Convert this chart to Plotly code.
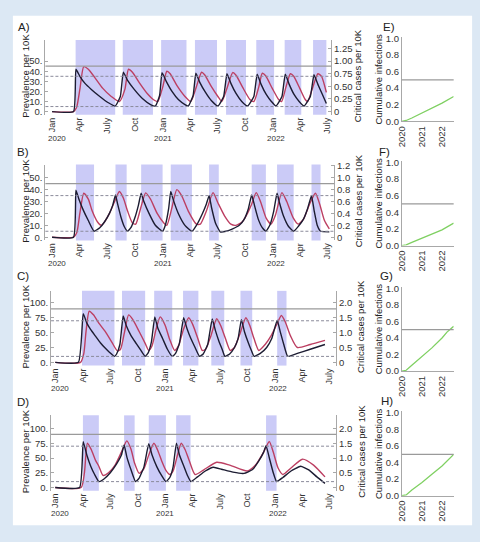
import plotly.graph_objects as go
import pandas as pd

W, H = 480, 542
START = pd.Timestamp("2020-01-01")

# ---------------- data (x = days since 1 Jan 2020) ----------------
A_BLACK_DAYS = [0,71,79,92,109,130,158,185,209,226,236,250,272,299,326,342,356,364,378,397,418,440,451,467,476,489,508,527,549,568,579,592,609,628,647,668,679,692,709,726,741,761,772,785,801,818,834,855,867,880,895,908]
A_BLACK_VALS = [0,0,42,35,28,22,15,9,5.5,15,39,31,22,13,7,5.5,16,38.5,30,20,12,7,5.5,16,38,29,19,11,5.5,15,37.5,28,18,10,5.5,15,37,27,17,10,5.5,15,37,27,17,10,5.5,15,36.5,27,17,8]
A_RED_DAYS = [0,71,81,92,105,120,141,168,196,223,241,253,266,288,315,340,350,366,380,391,413,440,459,477,495,505,527,549,562,580,598,609,631,655,668,684,696,707,729,750,760,774,789,800,820,838,846,863,880,892,908]
A_RED_VALS = [0,0,4,22,44.5,42,34,23,15,10,22,42,39,29,18,11,10,24,40,37.5,26,15,10,24,39,36.5,25,15,10,24,38.7,36,24,12,10,24,38,35.5,23,12,10,24,37.5,35,23,12,10,24,37.5,35,19]
A_LOCK_START = [78,234,361,473,576,676,770,864]
A_LOCK_END = [209,334,445,546,642,735,825,908]

B_BLACK_DAYS = [0,71,79,89,103,120,139,158,174,190,201,210,217,228,239,250,261,275,286,295,304,321,342,366,375,386,393,402,418,440,463,478,498,511,520,528,541,557,576,598,620,636,650,661,670,683,696,708,721,734,745,753,766,783,800,815,832,846,859,868,878,889,918]
B_BLACK_VALS = [0,0,39.5,32,23,14,5,8,13,20,27,35.5,28,17,9,5,8,17,27,37,30,20,10,5,10,24,38.5,31,20,10,5,10,20,28,35,25,12,4.5,5,7,10,15,24,35.5,27,15,8,5,10,22,37,29,18,9,5,9,15,24,35,22,10,5,4.5]
B_RED_DAYS = [0,71,82,92,105,120,133,150,163,174,190,207,223,236,250,266,277,294,310,326,348,370,380,397,413,429,451,478,491,511,533,549,571,592,609,630,647,661,676,690,709,725,739,761,777,799,815,832,853,872,886,902,918]
B_RED_VALS = [0,0,4,20,37,32,22,13,10,13,20,30,38.4,33,22,12,11,25,37.3,32,20,12,10,25,40,35,22,11,11,22,37.5,29,18,11,10,13,20,28,37.5,30,16,11,18,37.5,30,16,11,15,28,37,28,14,7]
B_LOCK_START = [79,210,295,393,520,661,745,859]
B_LOCK_END = [139,247,366,463,552,708,800,889]

C_BLACK_DAYS = [0,77,93,105,118,134,150,166,180,197,204,215,226,236,252,269,285,299,309,320,331,341,357,373,389,400,413,427,438,451,465,480,492,507,522,533,544,555,564,580,596,608,619,629,642,653,661,682,703,720,738,749,760,773,805,848,897]
C_BLACK_VALS = [0,0,82,66,55,44,33,24,17,10,14,30,78,62,45,32,20,10,16,35,76.6,58,40,22,10,15,32,75,57,40,25,10,14,30,73,53,36,22,10,14,25,40,72,52,33,19,10,15,25,40,71,50,30,10,15,22,30]
C_RED_DAYS = [0,84,95,102,113,127,145,166,188,207,217,230,244,258,279,299,311,322,335,349,365,381,397,410,426,444,457,473,489,500,516,537,550,566,582,596,612,634,647,661,677,698,718,735,752,765,782,805,848,897]
C_RED_VALS = [0,0,15,50,86,80,66,52,34,19,22,50,80,72,52,32,20,28,55,76.6,63,38,20,28,55,75,64,42,20,22,42,73.4,62,40,20,25,45,75,62,40,20,30,45,62,79,68,45,25,30,37]
C_LOCK_START = [89,222,329,425,519,616,738]
C_LOCK_END = [197,299,389,476,562,655,769]

D_BLACK_DAYS = [0,81,93,105,118,131,145,161,183,204,220,229,238,252,267,279,295,311,322,338,354,368,381,392,403,413,430,440,451,473,499,526,553,591,628,655,677,693,701,712,725,736,757,784,816,843,870,897]
D_BLACK_VALS = [0,0,77.8,55,36,22,10,14,25,40,55,72,52,30,10,16,35,74,55,35,20,10,17,35,75,55,33,20,10,18,28,34.4,31,26,24,30,45,60,71,50,25,10,17,28,36,30,18,7]
D_RED_DAYS = [0,86,97,107,120,134,145,159,177,199,220,238,252,264,279,295,311,328,340,354,367,381,392,405,419,432,446,465,494,537,580,639,666,693,712,725,741,757,784,822,859,897]
D_RED_VALS = [0,0,25,75,64,46,36,20.5,25,38,60,79,65,41,24,32,55,75,64,45,30,22,28,52,75,64,45,22,30,42.8,38,28,38,60,77.8,60,33,22,33,48,38,18]
D_LOCK_START = [92,229,311,402,701]
D_LOCK_END = [145,264,368,450,736]

# thresholds in critical cases per 10K (right axis)
THR_AB = {"solid": [0.9], "dash": [0.7, 0.1]}
THR_CD = {"solid": [1.8], "dash": [1.4, 0.2]}

MONTH_TICKS = ["2020-01-01","2020-04-01","2020-07-01","2020-10-01","2021-01-01","2021-04-01",
               "2021-07-01","2021-10-01","2022-01-01","2022-04-01","2022-07-01"]
MONTH_TEXT = ["Jan","Apr","July","Oct","Jan","Apr","July","Oct","Jan","Apr","July"]
YEAR_TEXT = ["2020", "2021", "2022"]
YEAR_POS = ["2020-01-18", "2021-01-01", "2022-01-12"]

LEFT_AB = [0, 10, 20, 30, 40, 50]
LEFT_AB_TXT = ["0.", "10.", "20.", "30.", "40.", "50."]
LEFT_CD = [0, 25, 50, 75, 100]
LEFT_CD_TXT = ["0.", "25.", "50.", "75.", "100."]
RIGHT_A = [0, 0.25, 0.5, 0.75, 1.0, 1.25]
RIGHT_A_TXT = ["0", "0.25", "0.50", "0.75", "1.00", "1.25"]
RIGHT_B = [0, 0.2, 0.4, 0.6, 0.8, 1.0, 1.2]
RIGHT_B_TXT = ["0", "0.2", "0.4", "0.6", "0.8", "1.0", "1.2"]
RIGHT_CD = [0, 0.5, 1.0, 1.5, 2.0]
RIGHT_CD_TXT = ["0", "0.5", "1.0", "1.5", "2.0"]

# cumulative infections (small panels)
E_DATES = ["2020-01-01","2020-03-20","2020-07-01","2021-01-01","2021-07-01","2022-01-01","2022-08-01"]
E_VALS = [0, 0.01, 0.04, 0.10, 0.16, 0.22, 0.30]
F_DATES = ["2020-01-01","2020-03-20","2020-07-01","2021-01-01","2021-07-01","2022-01-01","2022-08-01"]
F_VALS = [0, 0.01, 0.04, 0.09, 0.14, 0.19, 0.27]
G_DATES = ["2020-01-01","2020-03-20","2020-07-01","2021-01-01","2021-07-01","2022-01-01","2022-04-01","2022-08-01"]
G_VALS = [0, 0.01, 0.07, 0.17, 0.28, 0.40, 0.47, 0.54]
H_DATES = ["2020-01-01","2020-03-20","2020-07-01","2021-01-01","2021-07-01","2022-01-01","2022-08-01"]
H_VALS = [0, 0.01, 0.07, 0.16, 0.26, 0.36, 0.50]
CUM_LINE = 0.5
CUM_TICKS = [0, 0.2, 0.4, 0.6, 0.8, 1.0]
CUM_TXT = ["0.0", "0.2", "0.4", "0.6", "0.8", "1.0"]
YEAR_TICKS = ["2020-01-01", "2021-01-01", "2022-01-01"]

# ---------------- styling ----------------
FONT = "Liberation Sans, Arial, sans-serif"
BLACK = "#1c1c32"
RED = "#bc3f62"
LOCK = "#cbcbf7"
GRAY = "#a8a8a8"
TXT = "#333333"
GREEN = "#7fd062"


def to_dates(days):
    return [START + pd.Timedelta(days=float(d)) for d in days]


def xd(a, b):
    return [a / W, b / W]


def yd(top, bot):
    return [1 - bot / H, 1 - top / H]


def ann(text, x, y, size, angle=0, color="#222", xref="paper"):
    return dict(text=text, x=x if xref != "paper" else x / W, y=1 - y / H, xref=xref, yref="paper",
                xanchor="center", yanchor="middle", textangle=angle, showarrow=False,
                font=dict(size=size, color=color, family=FONT))


fig = go.Figure()
layout = {}
shapes = []
annotations = []

# white card
shapes.append(dict(type="rect", xref="paper", yref="paper", x0=7 / W, x1=473 / W,
                   y0=1 - 530 / H, y1=1 - 12 / H, fillcolor="white", line=dict(width=0), layer="below"))

main = [
    dict(lab="A)", labxy=(18, 23), xdom=(40, 330), ydom=(36.7, 112.7), xr=("2019-12-10", "2022-07-13"),
         yr=(-3.2, 70.9), lt=(LEFT_AB, LEFT_AB_TXT), rt=(RIGHT_A, RIGHT_A_TXT),
         black=(A_BLACK_DAYS, A_BLACK_VALS), red=(A_RED_DAYS, A_RED_VALS),
         lock=(A_LOCK_START, A_LOCK_END), thr=THR_AB, yeary=137, rtx=357),
    dict(lab="B)", labxy=(17, 150), xdom=(40, 333), ydom=(163.3, 240.4), xr=("2019-12-10", "2022-07-23"),
         yr=(-2.7, 61.1), lt=(LEFT_AB, LEFT_AB_TXT), rt=(RIGHT_B, RIGHT_B_TXT),
         black=(B_BLACK_DAYS, B_BLACK_VALS), red=(B_RED_DAYS, B_RED_VALS),
         lock=(B_LOCK_START, B_LOCK_END), thr=THR_AB, yeary=264, rtx=358),
    dict(lab="C)", labxy=(17, 277), xdom=(45.7, 335), ydom=(291.7, 367.7), xr=("2019-12-18", "2022-07-23"),
         yr=(-5.5, 120.4), lt=(LEFT_CD, LEFT_CD_TXT), rt=(RIGHT_CD, RIGHT_CD_TXT),
         black=(C_BLACK_DAYS, C_BLACK_VALS), red=(C_RED_DAYS, C_RED_VALS),
         lock=(C_LOCK_START, C_LOCK_END), thr=THR_CD, yeary=391.5, rtx=360),
    dict(lab="D)", labxy=(17, 405), xdom=(45.7, 335), ydom=(418.3, 495), xr=("2019-12-18", "2022-07-23"),
         yr=(-5.5, 122.2), lt=(LEFT_CD, LEFT_CD_TXT), rt=(RIGHT_CD, RIGHT_CD_TXT),
         black=(D_BLACK_DAYS, D_BLACK_VALS), red=(D_RED_DAYS, D_RED_VALS),
         lock=(D_LOCK_START, D_LOCK_END), thr=THR_CD, yeary=518, rtx=360),
]

for i, p in enumerate(main):
    xa = "x" if i == 0 else f"x{i + 1}"
    yl_n, yr_n = 2 * i + 1, 2 * i + 2
    yl = "y" if yl_n == 1 else f"y{yl_n}"
    yr = f"y{yr_n}"
    xkey = "xaxis" if i == 0 else f"xaxis{i + 1}"
    ylkey = "yaxis" if yl_n == 1 else f"yaxis{yl_n}"
    yrkey = f"yaxis{yr_n}"

    layout[xkey] = dict(domain=xd(*p["xdom"]), anchor=yl, type="date", range=list(p["xr"]),
                        tickvals=MONTH_TICKS, ticktext=MONTH_TEXT, tickangle=-90,
                        showgrid=False, zeroline=False, showline=False, ticks="",
                        tickfont=dict(size=9, color=TXT, family=FONT))
    layout[ylkey] = dict(domain=yd(*p["ydom"]), anchor=xa, range=list(p["yr"]),
                         tickvals=p["lt"][0], ticktext=p["lt"][1], showgrid=False, zeroline=False,
                         showline=True, linecolor=GRAY, linewidth=1, ticks="inside", ticklen=3,
                         tickcolor=GRAY, tickfont=dict(size=9.5, color=TXT, family=FONT))
    layout[yrkey] = dict(overlaying=yl, side="right", anchor=xa, range=[v / 50 for v in p["yr"]],
                         tickvals=p["rt"][0], ticktext=p["rt"][1], showgrid=False, zeroline=False,
                         showline=True, linecolor=GRAY, linewidth=1, ticks="inside", ticklen=3,
                         tickcolor=GRAY, tickfont=dict(size=9.5, color=TXT, family=FONT))

    for s, e in zip(*p["lock"]):
        shapes.append(dict(type="rect", xref=xa, yref=f"{yl} domain",
                           x0=to_dates([s])[0], x1=to_dates([e])[0], y0=0, y1=1,
                           fillcolor=LOCK, line=dict(width=0), layer="below"))
    for v in p["thr"]["solid"]:
        shapes.append(dict(type="line", xref=f"{xa} domain", yref=yr, x0=0, x1=1, y0=v, y1=v,
                           line=dict(color="#9a9a9a", width=1.2)))
    for v in p["thr"]["dash"]:
        shapes.append(dict(type="line", xref=f"{xa} domain", yref=yr, x0=0, x1=1, y0=v, y1=v,
                           line=dict(color="#8a8a9a", width=1, dash="3px,2px")))

    fig.add_trace(go.Scatter(x=to_dates(p["red"][0]), y=p["red"][1], xaxis=xa, yaxis=yl,
                             mode="lines", line=dict(color=RED, width=1.4, shape="spline", smoothing=0.6),
                             showlegend=False, hoverinfo="skip"))
    fig.add_trace(go.Scatter(x=to_dates(p["black"][0]), y=p["black"][1], xaxis=xa, yaxis=yl,
                             mode="lines", line=dict(color=BLACK, width=1.4, shape="spline", smoothing=0.4),
                             showlegend=False, hoverinfo="skip"))
    fig.add_trace(go.Scatter(x=[], y=[], xaxis=xa, yaxis=yr, showlegend=False, hoverinfo="skip"))

    for t, xp in zip(YEAR_TEXT, YEAR_POS):
        annotations.append(ann(t, xp, p["yeary"], 8, color=TXT, xref=xa))
    annotations.append(ann(p["lab"], p["labxy"][0], p["labxy"][1], 11.5))
    yc = (p["ydom"][0] + p["ydom"][1]) / 2 - 2
    annotations.append(ann("Prevalence per 10K", 19.5, yc, 9.5, angle=-90))
    annotations.append(ann("Critical cases per 10K", p["rtx"], yc, 9.5, angle=-90))

small = [
    dict(lab="E)", labxy=(389, 23), ydom=(33.3, 119.3), d=E_DATES, v=E_VALS),
    dict(lab="F)", labxy=(384, 150), ydom=(159.3, 245.7), d=F_DATES, v=F_VALS),
    dict(lab="G)", labxy=(386, 277), ydom=(287.3, 373.3), d=G_DATES, v=G_VALS),
    dict(lab="H)", labxy=(387, 404), ydom=(414.3, 500), d=H_DATES, v=H_VALS),
]
for j, p in enumerate(small):
    xn, yn = 5 + j, 9 + j
    xa, ya = f"x{xn}", f"y{yn}"
    layout[f"xaxis{xn}"] = dict(domain=xd(401.7, 454.3), anchor=ya, type="date",
                                range=["2020-01-01", "2022-08-01"], tickvals=YEAR_TICKS, ticktext=YEAR_TEXT,
                                tickangle=-90, showgrid=False, zeroline=False, showline=True,
                                linecolor=GRAY, linewidth=1, ticks="",
                                tickfont=dict(size=9.5, color=TXT, family=FONT))
    layout[f"yaxis{yn}"] = dict(domain=yd(*p["ydom"]), anchor=xa, range=[0, 1.02],
                                tickvals=CUM_TICKS, ticktext=CUM_TXT, showgrid=False, zeroline=False,
                                showline=True, linecolor=GRAY, linewidth=1, ticks="",
                                tickfont=dict(size=9.5, color=TXT, family=FONT))
    shapes.append(dict(type="line", xref=f"{xa} domain", yref=ya, x0=0, x1=1, y0=CUM_LINE, y1=CUM_LINE,
                       line=dict(color="#9a9a9a", width=1.2)))
    fig.add_trace(go.Scatter(x=p["d"], y=p["v"], xaxis=xa, yaxis=ya, mode="lines",
                             line=dict(color=GREEN, width=1.3), showlegend=False, hoverinfo="skip"))
    annotations.append(ann(p["lab"], p["labxy"][0], p["labxy"][1], 11.5))
    yc = (p["ydom"][0] + p["ydom"][1]) / 2
    annotations.append(ann("Cumulative infections", 378, yc, 9.5, angle=-90))

fig.update_layout(width=W, height=H, margin=dict(l=0, r=0, t=0, b=0, pad=0),
                  paper_bgcolor="#dce8f4", plot_bgcolor="rgba(0,0,0,0)",
                  showlegend=False, shapes=shapes, annotations=annotations,
                  font=dict(family=FONT, color=TXT), **layout)

fig.write_html("out.html")
